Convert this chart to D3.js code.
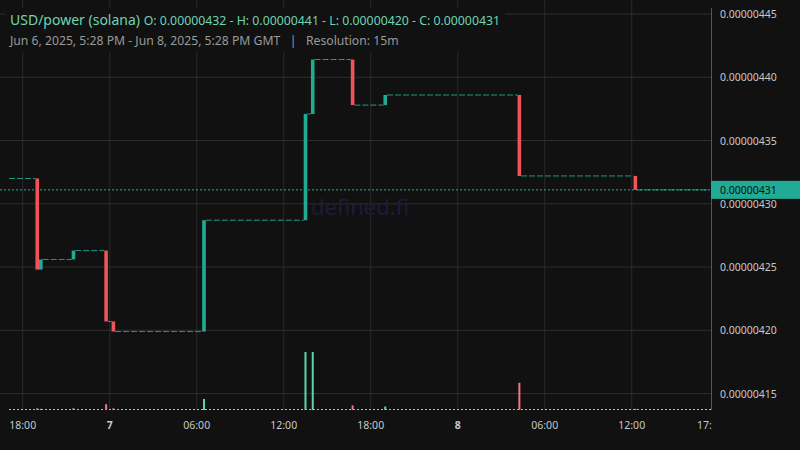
<!DOCTYPE html>
<html><head><meta charset="utf-8">
<script src="https://cdn.jsdelivr.net/npm/d3@7"></script>
<style>body{margin:0;background:#111111;}svg{display:block;font-family:"Noto Sans",sans-serif;}</style>
</head><body>
<svg id="chart" width="800" height="450"></svg>
<script>
// price changes (units 1e-8), flat segments between them
const candleTimes = ["2025-06-06T19:00","2025-06-06T19:15","2025-06-06T21:30","2025-06-06T23:45","2025-06-07T00:15",
  "2025-06-07T06:30","2025-06-07T13:30","2025-06-07T14:00","2025-06-07T16:45","2025-06-07T19:00",
  "2025-06-08T04:15","2025-06-08T12:15"];
const opens  = [432.0,424.8,425.6,426.3,420.7,419.9,428.7,437.1,441.4,437.8,438.6,432.2];
const closes = [424.8,425.6,426.3,420.7,419.9,428.7,437.1,441.4,437.8,438.6,432.2,431.1];
const volumes = [3,2,3,10,3,19,100,100,8,6,47,2];
const priceTicks = [415,420,425,430,435,440,445];
const startTime = "2025-06-06T17:28", endTime = "2025-06-08T17:28";
const lastPrice = 431.1;

const svg = d3.select("#chart");
const parse = d3.utcParse("%Y-%m-%dT%H:%M");
const W = 711, bottom = 410;
const x = d3.scaleUtc().domain([parse(startTime), parse(endTime)]).range([15, 711]);
const y = d3.scaleLinear().domain([413.7, 445]).range([bottom, 14]);
const v = d3.scaleLinear().domain([0, 100]).range([bottom, 352]);
const green = "#22ab94";
const bw = 3.6;

// grid
const xTicks = d3.utcHours(parse("2025-06-06T18:00"), parse(endTime), 6);
svg.append("g").selectAll("line").data(xTicks).join("line")
  .attr("x1", d => x(d)).attr("x2", d => x(d)).attr("y1", 0).attr("y2", bottom)
  .attr("stroke", "#2a2a2a");
svg.append("g").selectAll("line").data(priceTicks).join("line")
  .attr("x1", 0).attr("x2", W).attr("y1", d => y(d)).attr("y2", d => y(d))
  .attr("stroke", "#2e2e2e");

// watermark
svg.append("text").attr("x", 360).attr("y", 215).attr("text-anchor", "middle")
  .attr("font-size", 22).attr("fill", "#1c1c3a").text("defined.fi");

// volume
const vcol = (o, c) => c >= o ? "#5ed3b0" : "#f07482";
svg.append("line").attr("x1", 9).attr("x2", W).attr("y1", bottom - 0.5).attr("y2", bottom - 0.5)
  .attr("stroke", "#7fd8c0").attr("stroke-dasharray", "2,2");
svg.append("g").selectAll("rect").data(candleTimes).join("rect")
  .attr("x", d => x(parse(d)) - 1).attr("width", 2)
  .attr("y", (d, i) => v(volumes[i])).attr("height", (d, i) => bottom - v(volumes[i]))
  .attr("fill", (d, i) => vcol(opens[i], closes[i]));

// flat dashed segments
const segStarts = [startTime].concat(candleTimes);
const segEnds = candleTimes.concat([endTime]);
const segPrice = [opens[0]].concat(closes);
svg.append("g").selectAll("line").data(segPrice).join("line")
  .attr("x1", (d, i) => x(parse(segStarts[i])) + (i ? bw / 2 : -6))
  .attr("x2", (d, i) => x(parse(segEnds[i])) - bw / 2)
  .attr("y1", d => y(d)).attr("y2", d => y(d))
  .attr("stroke", green).attr("stroke-width", 0.9).attr("stroke-dasharray", "6,2");

// current price line
svg.append("line").attr("x1", 0).attr("x2", W).attr("y1", y(lastPrice)).attr("y2", y(lastPrice))
  .attr("stroke", green).attr("stroke-dasharray", "2,2");

// candles
svg.append("g").selectAll("rect").data(candleTimes).join("rect")
  .attr("x", d => x(parse(d)) - bw / 2).attr("width", bw)
  .attr("y", (d, i) => y(Math.max(opens[i], closes[i])))
  .attr("height", (d, i) => Math.abs(y(opens[i]) - y(closes[i])))
  .attr("fill", (d, i) => closes[i] >= opens[i] ? green : "#f0535a");

// right axis
svg.append("line").attr("x1", W + 0.5).attr("x2", W + 0.5).attr("y1", 8).attr("y2", bottom)
  .attr("stroke", "#555");
svg.append("g").selectAll("text").data(priceTicks).join("text")
  .attr("x", 720).attr("y", d => y(d) + 4).attr("font-size", 10.5).attr("fill", "#c8c8c8")
  .text(d => (d / 1e8).toFixed(8));
svg.append("rect").attr("x", W).attr("y", y(lastPrice) - 9).attr("width", 89).attr("height", 18)
  .attr("fill", green);
svg.append("text").attr("x", 720).attr("y", y(lastPrice) + 4).attr("font-size", 10.5).attr("fill", "#0d0d0d")
  .text((lastPrice / 1e8).toFixed(8));

// bottom axis
svg.append("g").selectAll("text").data(xTicks).join("text")
  .attr("x", d => x(d)).attr("y", 429).attr("text-anchor", "middle").attr("font-size", 10.5)
  .attr("fill", "#c8c8c8").attr("font-weight", d => d.getUTCHours() === 0 ? "bold" : "normal")
  .text(d => d.getUTCHours() === 0 ? d.getUTCDate() : d3.utcFormat("%H:%M")(d));
svg.append("rect").attr("x", W - 10).attr("y", 416).attr("width", 10).attr("height", 20).attr("fill", "#111111");
svg.append("text").attr("x", 697).attr("y", 429).attr("font-size", 10.5).attr("fill", "#c8c8c8").text("17:");

// header
svg.append("rect").attr("x", 5).attr("y", 8).attr("width", 500).attr("height", 44).attr("fill", "#111111");
const h = svg.append("text").attr("x", 10).attr("y", 25).attr("fill", "#6fd4b6");
h.append("tspan").attr("font-size", 14).text("USD/power (solana) ");
h.append("tspan").attr("font-size", 12.3).text("O: 0.00000432 - H: 0.00000441 - L: 0.00000420 - C: 0.00000431");
svg.append("text").attr("x", 10).attr("y", 45).attr("font-size", 12.2).attr("fill", "#9a9a9a")
  .text("Jun 6, 2025, 5:28 PM - Jun 8, 2025, 5:28 PM GMT   |   Resolution: 15m")
  .style("white-space", "pre");
</script>
</body></html>
